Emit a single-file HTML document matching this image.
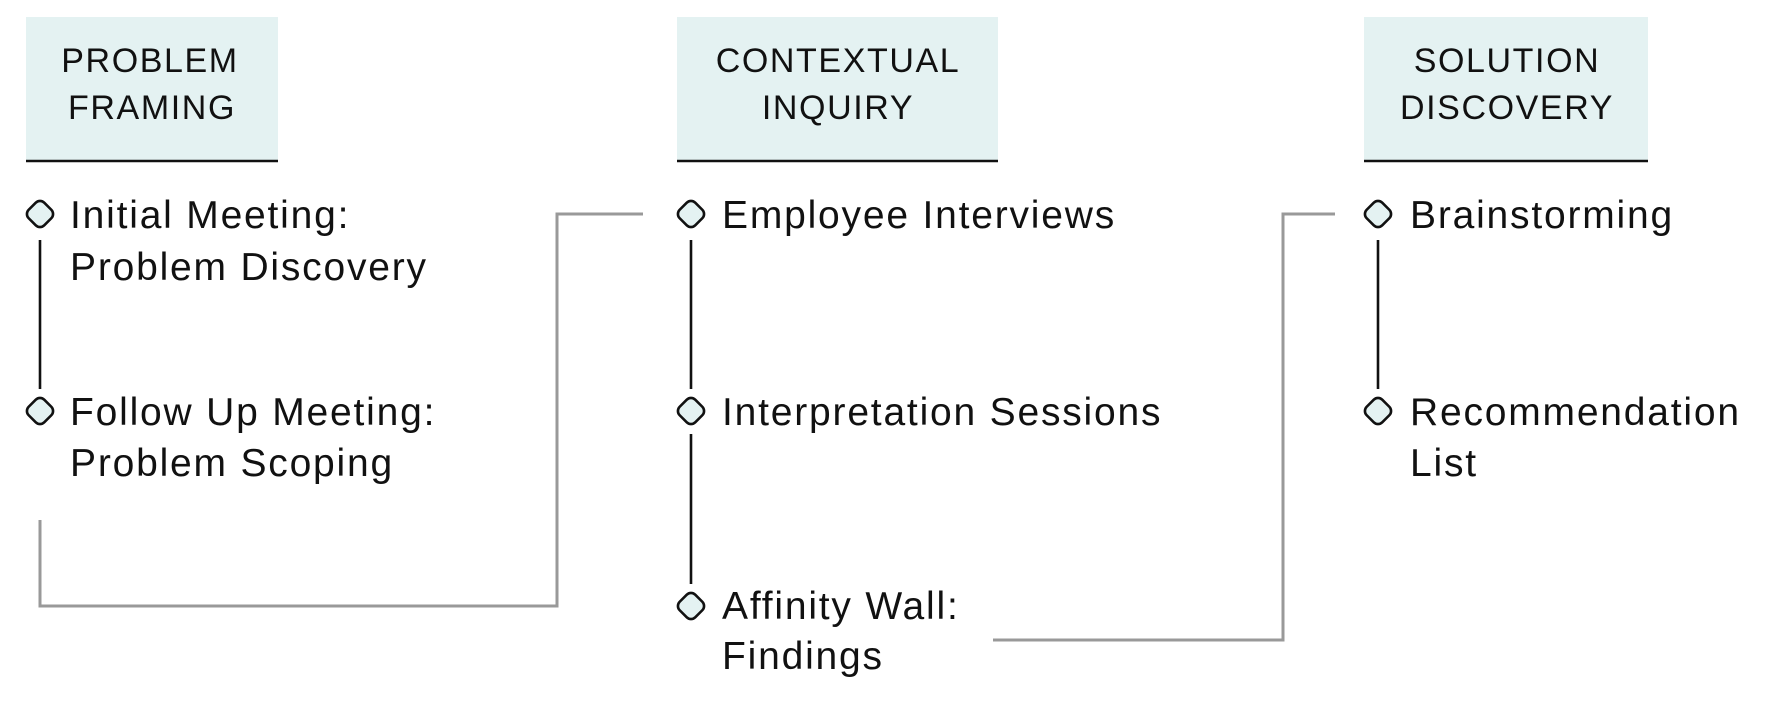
<!DOCTYPE html>
<html><head><meta charset="utf-8"><style>
html,body{margin:0;padding:0;background:#fff;}
svg text{font-family:"Liberation Sans",sans-serif;fill:#111;}
</style></head><body>
<svg width="1768" height="700" viewBox="0 0 1768 700" xmlns="http://www.w3.org/2000/svg">
<defs>
<rect id="dm" x="-11" y="-11" width="22" height="22" rx="6" transform="rotate(45)" fill="#e4f2f2" stroke="#111" stroke-width="2.6"/>
</defs>
<rect x="26" y="17" width="252" height="144" fill="#e4f2f2"/>
<line x1="26" y1="161" x2="278" y2="161" stroke="#111" stroke-width="2.5"/>
<rect x="677" y="17" width="321" height="144" fill="#e4f2f2"/>
<line x1="677" y1="161" x2="998" y2="161" stroke="#111" stroke-width="2.5"/>
<rect x="1364" y="17" width="284" height="144" fill="#e4f2f2"/>
<line x1="1364" y1="161" x2="1648" y2="161" stroke="#111" stroke-width="2.5"/>
<g font-size="34" text-anchor="middle" letter-spacing="1.6">
<text x="150" y="72">PROBLEM</text><text x="152" y="119">FRAMING</text>
<text x="838" y="72">CONTEXTUAL</text><text x="838" y="119">INQUIRY</text>
<text x="1507" y="72">SOLUTION</text><text x="1507" y="119">DISCOVERY</text>
</g>
<polyline points="40,520 40,606 557,606 557,214 643,214" fill="none" stroke="#999" stroke-width="3"/>
<polyline points="993,640 1283,640 1283,214 1335,214" fill="none" stroke="#999" stroke-width="3"/>
<g stroke="#111" stroke-width="2.6">
<line x1="40" y1="240" x2="40" y2="389"/>
<line x1="691" y1="240" x2="691" y2="389"/>
<line x1="691" y1="434" x2="691" y2="584"/>
<line x1="1378" y1="240" x2="1378" y2="389"/>
</g>
<use href="#dm" transform="translate(40,214)"/><use href="#dm" transform="translate(40,411)"/>
<use href="#dm" transform="translate(691,214)"/><use href="#dm" transform="translate(691,411)"/><use href="#dm" transform="translate(691,606)"/>
<use href="#dm" transform="translate(1378,214)"/><use href="#dm" transform="translate(1378,411)"/>
<g font-size="39" letter-spacing="1.8">
<text x="70" y="228">Initial Meeting:</text>
<text x="70" y="280">Problem Discovery</text>
<text x="70" y="425">Follow Up Meeting:</text>
<text x="70" y="476">Problem Scoping</text>
<text x="722" y="228">Employee Interviews</text>
<text x="722" y="425">Interpretation Sessions</text>
<text x="722" y="619">Affinity Wall:</text>
<text x="722" y="669">Findings</text>
<text x="1410" y="228">Brainstorming</text>
<text x="1410" y="425">Recommendation</text>
<text x="1410" y="476">List</text>
</g>
</svg>
</body></html>
